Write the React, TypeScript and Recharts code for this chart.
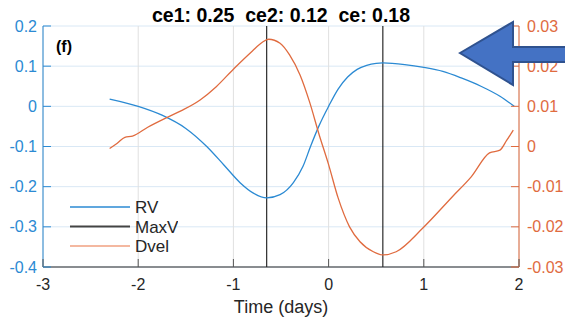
import {
  CartesianGrid,
  Legend,
  Line,
  LineChart,
  ReferenceLine,
  XAxis,
  YAxis,
} from "recharts";

const FONT = "Arial, 'Liberation Sans', Helvetica, sans-serif";
const BLUE = "#2b8ad3";
const ORANGE = "#e06b3f";
const AXIS_DARK = "#262626";

// x ticks / y ticks
const timeTicks = [-3, -2, -1, 0, 1, 2];
const rvTicks = [-0.4, -0.3, -0.2, -0.1, 0, 0.1, 0.2];
const dvelTicks = [-0.03, -0.02, -0.01, 0, 0.01, 0.02, 0.03];

// RV (left axis)
const rvTime = [-2.3, -2.0, -1.75, -1.5, -1.28, -1.1, -0.93, -0.79, -0.65, -0.51, -0.37, -0.27, -0.19, -0.1, 0.0, 0.1, 0.2, 0.3, 0.4, 0.5, 0.57, 0.8, 1.0, 1.2, 1.4, 1.6, 1.8, 1.95];
const rvValues = [0.018, 0.0, -0.022, -0.055, -0.1, -0.146, -0.19, -0.216, -0.228, -0.22, -0.19, -0.15, -0.1, -0.048, 0.0, 0.043, 0.073, 0.092, 0.102, 0.107, 0.108, 0.104, 0.097, 0.087, 0.07, 0.05, 0.025, 0.0];

// Dvel (right axis)
const dvelTime = [-2.3, -2.22, -2.14, -2.06, -1.9, -1.7, -1.54, -1.35, -1.18, -0.99, -0.8, -0.7, -0.63, -0.51, -0.41, -0.3, -0.2, -0.1, 0.0, 0.1, 0.22, 0.33, 0.47, 0.57, 0.71, 0.99, 1.3, 1.5, 1.69, 1.8, 1.87, 1.94];
const dvelValues = [-0.0005, 0.0008, 0.0023, 0.0026, 0.0048, 0.0072, 0.009, 0.0116, 0.0149, 0.0195, 0.0238, 0.0259, 0.0267, 0.0257, 0.0228, 0.0178, 0.0111, 0.003, -0.0045, -0.0128, -0.02, -0.0237, -0.0262, -0.027, -0.0262, -0.0203, -0.0125, -0.0075, -0.0016, -0.0009, 0.0015, 0.0041];

// MaxV markers
const maxVTimes = [-0.65, 0.57];

const legendNames = ["RV", "MaxV", "Dvel"];
const legendColors = [BLUE, "#444444", "#f0a080"];

const titleText = "ce1: 0.25\u00a0\u00a0ce2: 0.12\u00a0\u00a0ce: 0.18";

const rvData = rvTime.map((t, i) => ({ t, rv: rvValues[i] }));
const dvelData = dvelTime.map((t, i) => ({ t, dvel: dvelValues[i] }));

function BottomTick({ x, y, payload }: any) {
  return (
    <g>
      <line x1={x} x2={x} y1={y} y2={y - 8} stroke="#555" strokeWidth={1} />
      <text x={x} y={y + 23} textAnchor="middle" fill={AXIS_DARK} fontSize={16} fontFamily={FONT}>
        {payload.value}
      </text>
    </g>
  );
}

function TopTick({ x, y }: any) {
  return <line x1={x} x2={x} y1={y} y2={y + 8} stroke="#808080" strokeWidth={1} />;
}

function LeftTick({ x, y, payload }: any) {
  return (
    <g>
      <line x1={x} x2={x + 8} y1={y} y2={y} stroke={BLUE} strokeWidth={1} />
      <text x={x - 6} y={y} dy="0.35em" textAnchor="end" fill={BLUE} fontSize={16} fontFamily={FONT}>
        {payload.value}
      </text>
    </g>
  );
}

function RightTick({ x, y, payload }: any) {
  return (
    <g>
      <line x1={x} x2={x - 8} y1={y} y2={y} stroke={ORANGE} strokeWidth={1} />
      <text x={x + 8} y={y} dy="0.35em" textAnchor="start" fill={ORANGE} fontSize={16} fontFamily={FONT}>
        {payload.value}
      </text>
    </g>
  );
}

function LegendBox() {
  return (
    <svg width={110} height={62} style={{ display: "block" }}>
      {legendNames.map((name, i) => {
        const cy = 11 + i * 19.5;
        return (
          <g key={name}>
            <line x1={2} x2={62} y1={cy} y2={cy} stroke={legendColors[i]} strokeWidth={i === 1 ? 2 : 1.5} />
            <text x={67} y={cy} dy="0.36em" fill={AXIS_DARK} fontSize={17} fontFamily={FONT}>
              {name}
            </text>
          </g>
        );
      })}
    </svg>
  );
}

export default function App() {
  return (
    <div style={{ position: "absolute", left: 0, top: 0, width: 565, height: 325, background: "#fff", fontFamily: FONT }}>
      <LineChart width={565} height={325} margin={{ top: 26, right: 0, bottom: 0, left: 0 }}>
        <CartesianGrid yAxisId="left" vertical={false} stroke="#d9e8f5" strokeWidth={1} />
        <CartesianGrid yAxisId="left" horizontal={false} stroke="#e0e0e0" strokeWidth={1} />
        <XAxis
          type="number"
          dataKey="t"
          domain={[-3, 2]}
          ticks={timeTicks}
          interval={0}
          allowDataOverflow
          height={58}
          axisLine={{ stroke: AXIS_DARK }}
          tickLine={false}
          tickSize={0}
          tickMargin={0}
          tick={<BottomTick />}
          label={{ value: "Time (days)", position: "insideBottom", offset: 12, fill: AXIS_DARK, fontSize: 18, fontFamily: FONT }}
        />
        <XAxis
          xAxisId="top"
          orientation="top"
          type="number"
          dataKey="t"
          domain={[-3, 2]}
          ticks={timeTicks}
          interval={0}
          allowDataOverflow
          height={0}
          axisLine={{ stroke: "#808080" }}
          tickLine={false}
          tickSize={0}
          tickMargin={0}
          tick={<TopTick />}
        />
        <YAxis
          yAxisId="left"
          domain={[-0.4, 0.2]}
          ticks={rvTicks}
          interval={0}
          allowDataOverflow
          width={43}
          axisLine={{ stroke: BLUE }}
          tickLine={false}
          tickSize={0}
          tickMargin={0}
          tick={<LeftTick />}
        />
        <YAxis
          yAxisId="right"
          orientation="right"
          domain={[-0.03, 0.03]}
          ticks={dvelTicks}
          interval={0}
          allowDataOverflow
          width={46}
          axisLine={{ stroke: ORANGE }}
          tickLine={false}
          tickSize={0}
          tickMargin={0}
          tick={<RightTick />}
        />
        {maxVTimes.map((t) => (
          <ReferenceLine key={t} x={t} yAxisId="left" stroke="#000" strokeWidth={1} ifOverflow="extendDomain" />
        ))}
        <Line
          yAxisId="left"
          data={rvData}
          dataKey="rv"
          name="RV"
          type="monotone"
          stroke={BLUE}
          strokeWidth={1.3}
          dot={false}
          isAnimationActive={false}
        />
        <Line
          yAxisId="right"
          data={dvelData}
          dataKey="dvel"
          name="Dvel"
          type="monotone"
          stroke={ORANGE}
          strokeWidth={1.3}
          dot={false}
          isAnimationActive={false}
        />
        <Legend
          layout="vertical"
          align="center"
          verticalAlign="middle"
          wrapperStyle={{ left: 68, top: 196, width: 110, height: 62 }}
          content={() => <LegendBox />}
        />
      </LineChart>
      <svg width={565} height={325} style={{ position: "absolute", left: 0, top: 0, pointerEvents: "none" }}>
        <text x={281} y={22} textAnchor="middle" fontWeight="bold" fontSize={19.5} fill="#000" fontFamily={FONT}>
          {titleText}
        </text>
        <text x={56} y={52} fontWeight="bold" fontSize={16} fill="#000" fontFamily={FONT}>
          (f)
        </text>
        <polygon
          points="460,53 513,22 513,47 566,47 566,62 513,62 513,85"
          fill="#4472C4"
          stroke="#2F528F"
          strokeWidth={2}
          strokeLinejoin="miter"
        />
      </svg>
    </div>
  );
}
